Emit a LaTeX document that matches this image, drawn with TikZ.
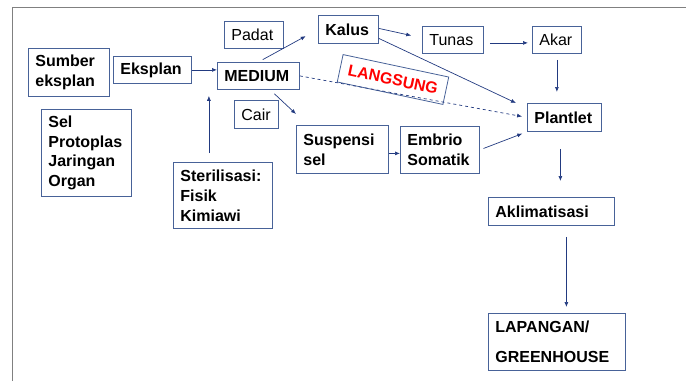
\documentclass[tikz,border=0pt]{standalone}
\usepackage{fontspec}
\setmainfont{Liberation Sans}
\usetikzlibrary{arrows.meta,calc}
\definecolor{boxline}{RGB}{72,98,152}
\definecolor{arrowline}{RGB}{34,58,128}
\definecolor{framegray}{RGB}{128,128,128}
\tikzset{
    stage/.style={draw=boxline, line width=0.8pt, anchor=north west, align=left, inner xsep=7pt, inner ysep=0pt,
        font=\fontsize{16}{20}\selectfont\bfseries},
    medium type/.style={stage, font=\fontsize{16}{20}\selectfont},
    flow/.style={-{Latex[length=5pt,width=4pt]}, draw=arrowline, line width=0.7pt},
}

\begin{document}
\begin{tikzpicture}[x=1pt,y=-1pt]
\useasboundingbox (0,0) rectangle (686,381);
% slide frame
\draw[framegray, line width=1pt] (12,381) -- (12,7) -- (686,7);

% source material
\node[stage, text width=67pt, minimum height=48pt] (sumber) at (28,48) {Sumber\\eksplan};
\node[stage, text width=76pt, minimum height=87pt, font=\fontsize{16}{19.5}\selectfont\bfseries] (bahan) at (41,109) {Sel\\Protoplas\\Jaringan\\Organ};
\node[stage, text width=64pt, minimum height=27pt] (eksplan) at (113,56) {Eksplan};
\node[stage, text width=85pt, minimum height=66pt] (steril) at (173,162) {Sterilisasi:\\Fisik\\Kimiawi};

% medium
\node[stage, text width=68pt, minimum height=27pt] (medium) at (217,62) {MEDIUM};
\node[medium type, text width=45pt, minimum height=27pt] (padat) at (224,21) {Padat};
\node[medium type, text width=30pt, minimum height=28pt] (cair) at (234,100) {Cair};

% regeneration routes
\node[stage, text width=46pt, minimum height=28pt] (kalus) at (318,15) {Kalus};
\node[medium type, text width=47pt, minimum height=27pt] (tunas) at (422,26) {Tunas};
\node[medium type, text width=35pt, minimum height=27pt] (akar) at (532,26) {Akar};
\node[stage, text width=78pt, minimum height=48pt] (suspensi) at (296,125) {Suspensi\\sel};
\node[stage, text width=65pt, minimum height=47pt] (embrio) at (400,126) {Embrio\\Somatik};
\node[stage, text width=60pt, minimum height=28pt] (plantlet) at (527,103) {Plantlet};
\node[draw=boxline, line width=0.8pt, text=red, font=\fontsize{16}{20}\selectfont\bfseries,
    rotate=-12, minimum width=108pt, minimum height=28pt] (langsung) at (393,79.5) {LANGSUNG};

% hardening
\node[stage, text width=112pt, minimum height=28pt] (aklim) at (488,197) {Aklimatisasi};
\node[stage, text width=123pt, minimum height=57pt, font=\fontsize{16}{30}\selectfont\bfseries] (lapangan) at (488,313) {LAPANGAN/\\GREENHOUSE};

% Arrows into medium
\draw[flow] (eksplan.east) -- (eksplan.east -| medium.west);
\draw[flow, shorten <=9pt, shorten >=6pt] ([xshift=-14pt]steril.north) -- ([xshift=-14pt]steril.north |- medium.south);

% Medium to routes
\draw[flow, shorten <=5pt, shorten >=14pt] (medium.north) -- (kalus.west);
\draw[flow] ([xshift=16pt,yshift=-4pt]medium.south) -- ([yshift=11pt]suspensi.north west);
\draw[flow, dashed, shorten >=5pt] (medium.east) -- (plantlet.west);

% Kalus route
\draw[flow, shorten >=11pt] ([yshift=1pt]kalus.east) -- ([yshift=2pt]tunas.west);
\draw[flow] ([yshift=-9pt]kalus.east) -- ([xshift=-11pt]plantlet.north west);
\draw[flow, shorten <=6pt, shorten >=4pt] ([yshift=-3pt]tunas.east) -- ([yshift=-3pt]tunas.east -| akar.west);
\draw[flow, shorten <=6pt, shorten >=11pt] (akar.south) -- (akar.south |- plantlet.north);

% Suspension route
\draw[flow] ([yshift=-4pt]suspensi.east) -- ([yshift=-4pt]suspensi.east -| embrio.west);
\draw[flow, shorten <=4pt, shorten >=5pt] (embrio.east) -- (plantlet.south west);

% Plantlet to field
\draw[flow, shorten <=17pt, shorten >=16pt] ([xshift=-4pt]plantlet.south) -- ([xshift=-4pt]plantlet.south |- aklim.north);
\draw[flow, shorten <=11pt, shorten >=6pt] ([xshift=15pt]aklim.south) -- ([xshift=15pt]aklim.south |- lapangan.north);
\end{tikzpicture}
\end{document}
